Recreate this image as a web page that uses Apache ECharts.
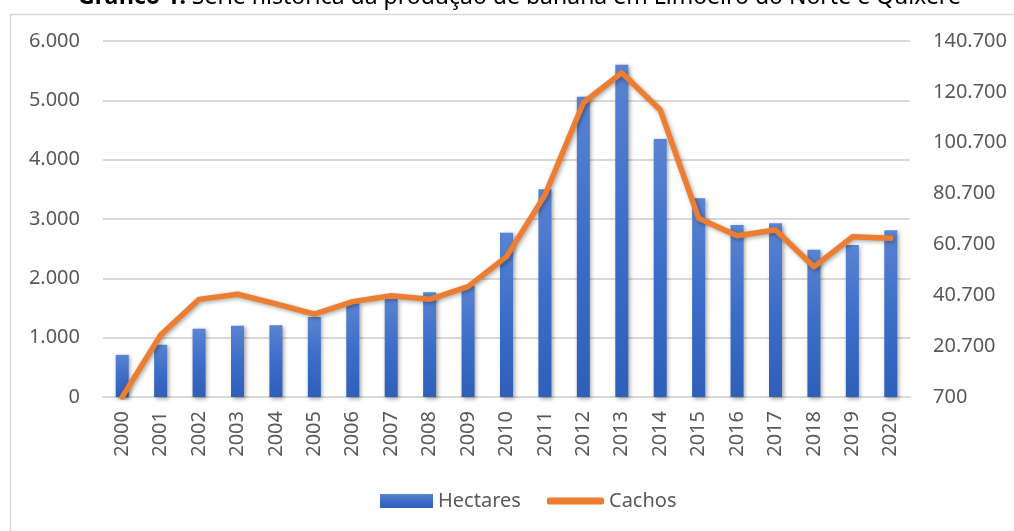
<!DOCTYPE html>
<html>
<head>
<meta charset="utf-8">
<script src="https://cdn.jsdelivr.net/npm/echarts@6/dist/echarts.min.js"></script>
<style>
  html, body { margin: 0; padding: 0; background: #fff; }
  #chart { width: 1014px; height: 531px; }
</style>
</head>
<body>
<div id="chart"></div>
<script>
const years = ['2000', '2001', '2002', '2003', '2004', '2005', '2006', '2007', '2008', '2009', '2010',
  '2011', '2012', '2013', '2014', '2015', '2016', '2017', '2018', '2019', '2020'];
const hectares = [710, 880, 1150, 1200, 1210, 1350, 1580, 1650, 1765, 1870, 2770,
  3500, 5060, 5600, 4350, 3350, 2900, 2930, 2480, 2560, 2810];
const cachos = [700, 25100, 39100, 41100, 37300, 33300, 38200, 40500, 39100, 44100, 55900,
  80100, 116400, 128200, 113600, 71000, 64100, 66400, 51900, 63700, 63100];

const fontFamily = '"Noto Sans", sans-serif';
const textColor = '#595959';

function fmt(v) {
  return String(v).replace(/\B(?=(\d{3})+(?!\d))/g, '.');
}

const chart = echarts.init(document.getElementById('chart'));

const option = {
  backgroundColor: '#fff',
  animation: false,
  textStyle: { fontFamily: fontFamily },
  title: {
    text: '{b|Gráfico 1:} Série histórica da produção de banana em Limoeiro do Norte e Quixeré',
    left: 73,
    top: -19,
    textStyle: {
      fontFamily: fontFamily,
      fontSize: 23,
      fontWeight: 'normal',
      color: '#000',
      rich: {
        b: { fontFamily: fontFamily, fontSize: 23, fontWeight: 'bold', color: '#000' }
      }
    }
  },
  graphic: [
    {
      type: 'rect',
      left: 8,
      top: 12,
      shape: { width: 1020, height: 540 },
      style: { fill: 'none', stroke: '#d9d9d9', lineWidth: 1.5 },
      silent: true,
      z: -10
    }
  ],
  grid: {
    left: 103,
    right: 104,
    top: 41,
    bottom: 134
  },
  legend: [
    {
      data: [{ name: 'Hectares', icon: 'rect' }],
      left: 375,
      top: 486,
      itemWidth: 53,
      itemHeight: 14,
      itemGap: 5,
      textStyle: { fontFamily: fontFamily, fontSize: 20, color: textColor }
    },
    {
      data: [{ name: 'Cachos', icon: 'roundRect' }],
      left: 542,
      top: 486,
      itemWidth: 57,
      itemHeight: 7,
      itemStyle: { borderRadius: 4 },
      textStyle: { fontFamily: fontFamily, fontSize: 20, color: textColor }
    }
  ],
  xAxis: {
    type: 'category',
    data: years,
    axisLine: { lineStyle: { color: '#d9d9d9', width: 2 } },
    axisTick: { show: false },
    axisLabel: {
      rotate: 90,
      margin: 14,
      fontFamily: fontFamily,
      fontSize: 20,
      color: textColor,
      interval: 0
    }
  },
  yAxis: [
    {
      type: 'value',
      min: 0,
      max: 6000,
      interval: 1000,
      axisLine: { show: false },
      axisTick: { show: false },
      splitLine: { lineStyle: { color: '#d9d9d9', width: 2 } },
      axisLabel: {
        margin: 23,
        fontFamily: fontFamily,
        fontSize: 20,
        color: textColor,
        formatter: v => fmt(v)
      }
    },
    {
      type: 'value',
      min: 700,
      max: 140700,
      interval: 20000,
      axisLine: { show: false },
      axisTick: { show: false },
      splitLine: { show: false },
      axisLabel: {
        margin: 23,
        fontFamily: fontFamily,
        fontSize: 20,
        color: textColor,
        formatter: v => fmt(v)
      }
    }
  ],
  series: [
    {
      name: 'Hectares',
      type: 'bar',
      data: hectares,
      barWidth: 13,
      itemStyle: {
        color: new echarts.graphic.LinearGradient(0, 0, 0, 1, [
          { offset: 0, color: '#5a84d2' },
          { offset: 0.5, color: '#3c6dc8' },
          { offset: 1, color: '#2f5fb8' }
        ]),
        shadowBlur: 4,
        shadowColor: 'rgba(0,0,0,0.35)',
        shadowOffsetX: 1.5,
        shadowOffsetY: 1.5
      }
    },
    {
      name: 'Cachos',
      type: 'line',
      yAxisIndex: 1,
      data: cachos,
      symbol: 'none',
      itemStyle: { color: '#ED7D31' },
      lineStyle: {
        color: '#ED7D31',
        width: 5.5,
        cap: 'round',
        join: 'round',
        shadowBlur: 4,
        shadowColor: 'rgba(0,0,0,0.35)',
        shadowOffsetX: 1.5,
        shadowOffsetY: 1.5
      },
      z: 3
    }
  ]
};

chart.setOption(option);
window.addEventListener('resize', () => chart.resize());
</script>
</body>
</html>
